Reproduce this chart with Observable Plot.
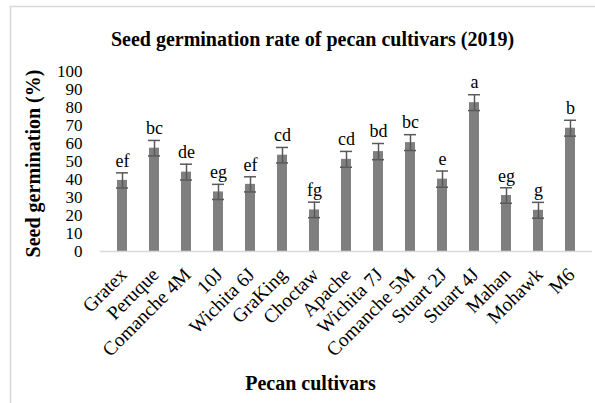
<!DOCTYPE html>
<html>
<head>
<meta charset="utf-8">
<script src="https://cdn.jsdelivr.net/npm/d3@7"></script>
<script src="https://cdn.jsdelivr.net/npm/@observablehq/plot@0.6"></script>
<style>
  html, body { margin: 0; padding: 0; background: #fff; }
  #wrap { width: 595px; height: 403px; overflow: hidden; background: #fff; }
</style>
</head>
<body>
<div id="wrap"></div>
<script>
const chartTitle = "Seed germination rate of pecan cultivars (2019)";
const xTitle = "Pecan cultivars";
const yTitle = "Seed germination (%)";

const cultivars = ["Gratex", "Peruque", "Comanche 4M", "10J", "Wichita 6J", "GraKing", "Choctaw", "Apache", "Wichita 7J", "Comanche 5M", "Stuart 2J", "Stuart 4J", "Mahan", "Mohawk", "M6"];
const germination = [39.5, 57.4, 44.1, 33.1, 37.3, 53.5, 23.1, 51.2, 55.5, 60.5, 40.2, 82.7, 31.1, 22.9, 68.5];
const stdError = [4.2, 4.3, 4.4, 4.2, 4.2, 4.3, 4.3, 4.4, 4.5, 4.4, 4.5, 4.4, 4.3, 4.4, 4.4];
const groups = ["ef", "bc", "de", "eg", "ef", "cd", "fg", "cd", "bd", "bc", "e", "a", "eg", "g", "b"];
const yTicks = [0, 10, 20, 30, 40, 50, 60, 70, 80, 90, 100];

const data = cultivars.map((c, i) => ({cultivar: c, mean: germination[i], se: stdError[i], group: groups[i]}));

const font = "'Liberation Serif', 'Times New Roman', serif";
const errColor = "#595959";

const chart = Plot.plot({
  width: 595,
  height: 403,
  marginLeft: 100,
  marginRight: 3,
  marginTop: 71,
  marginBottom: 152,
  style: {fontFamily: font, fontSize: "18px", color: "#000", background: "#fff", overflow: "visible"},
  x: {domain: cultivars, paddingInner: 0.7, paddingOuter: 0.35, label: null},
  y: {domain: [0, 100], label: null},
  marks: [
    Plot.axisY({ticks: yTicks, tickSize: 0, tickPadding: 18, label: null, fontSize: 17, fontFamily: font, fill: "#000"}),
    Plot.axisX({tickRotate: -45, tickSize: 0, tickPadding: 20, dx: 1, label: null, fontSize: 19.5, fontFamily: font, fill: "#000"}),
    Plot.barY(data, {x: "cultivar", y: "mean", fill: "#7f7f7f"}),
    Plot.ruleY([0], {stroke: "#d9d9d9", strokeWidth: 1.5}),
    Plot.ruleX(data, {x: "cultivar", y1: d => d.mean - d.se, y2: d => d.mean + d.se, stroke: errColor, strokeWidth: 1.5}),
    Plot.tickY(data, {x: "cultivar", y: d => d.mean + d.se, stroke: errColor, strokeWidth: 1.5, insetLeft: -1, insetRight: -1}),
    Plot.tickY(data, {x: "cultivar", y: d => d.mean - d.se, stroke: errColor, strokeWidth: 1.5, insetLeft: -1, insetRight: -1}),
    Plot.text(data, {x: "cultivar", y: d => d.mean + d.se, text: "group", dy: -12, fontSize: 18, fontFamily: font, fill: "#000"}),
    Plot.text([chartTitle], {frameAnchor: "top", textAnchor: "middle", lineAnchor: "middle", dx: -34, dy: -32, fontSize: 20, fontWeight: "bold", fontFamily: font, fill: "#000"}),
    Plot.text([yTitle], {frameAnchor: "left", textAnchor: "middle", lineAnchor: "middle", rotate: -90, dx: -67, dy: 2, fontSize: 20, fontWeight: "bold", fontFamily: font, fill: "#000"}),
    Plot.text([xTitle], {frameAnchor: "bottom", textAnchor: "middle", lineAnchor: "middle", dx: -36, dy: 132, fontSize: 20, fontWeight: "bold", fontFamily: font, fill: "#000"})
  ]
});

// chart area border (light grey frame, top and left edges visible in the cropped picture)
d3.select(chart).append("path")
  .attr("d", "M10.5,410V6.5H600")
  .attr("fill", "none")
  .attr("stroke", "#d9d9d9")
  .attr("stroke-width", 1.5);

document.getElementById("wrap").appendChild(chart);
</script>
</body>
</html>
